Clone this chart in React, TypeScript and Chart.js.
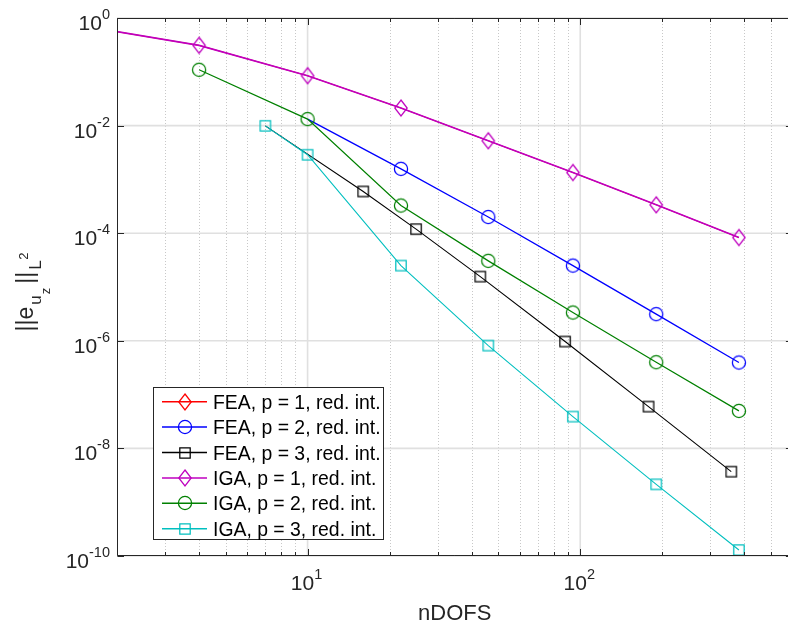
import React, { useEffect, useRef } from 'react';
import { Chart, registerables } from 'chart.js';

Chart.register(...registerables);

// ---------------- data ----------------
const FEA_P1_NDOFS = [1, 4, 10, 22, 46, 94, 190, 382];
const FEA_P1_ERR = [1, 0.31, 0.0845, 0.0212, 0.00522, 0.00134, 3.37e-4, 8.3e-5];

const FEA_P2_NDOFS = [10, 22, 46, 94, 190, 382];
const FEA_P2_ERR = [0.0132, 1.57e-3, 2.0e-4, 2.5e-5, 3.13e-6, 3.94e-7];

const FEA_P3_NDOFS = [7, 16, 25, 43, 88, 178, 358];
const FEA_P3_ERR = [0.0099, 5.96e-4, 1.19e-4, 1.56e-5, 9.7e-7, 5.98e-8, 3.7e-9];

const IGA_P1_NDOFS = [1, 4, 10, 22, 46, 94, 190, 382];
const IGA_P1_ERR = [1, 0.31, 0.0845, 0.0212, 0.00522, 0.00134, 3.37e-4, 8.3e-5];

const IGA_P2_NDOFS = [4, 10, 22, 46, 94, 190, 382];
const IGA_P2_ERR = [0.109, 0.0132, 3.27e-4, 3.06e-5, 3.35e-6, 4.0e-7, 4.98e-8];

const IGA_P3_NDOFS = [7, 10, 22, 46, 94, 190, 382];
const IGA_P3_ERR = [0.0099, 2.87e-3, 2.5e-5, 8.15e-7, 3.9e-8, 2.15e-9, 1.29e-10];

const SERIES_LABELS = [
  'FEA, p = 1, red. int.',
  'FEA, p = 2, red. int.',
  'FEA, p = 3, red. int.',
  'IGA, p = 1, red. int.',
  'IGA, p = 2, red. int.',
  'IGA, p = 3, red. int.',
];

const X_MIN = 2;
const X_MAX = 600;
const Y_MIN = 1e-10;
const Y_MAX = 1;
const X_TICK_EXPONENTS = [1, 2];
const Y_TICK_EXPONENTS = [0, -2, -4, -6, -8, -10];
const X_LABEL = 'nDOFS';

// ---------------- styles ----------------
const SERIES_COLORS = ['#FF0000', '#0000FF', '#000000', '#BF00BF', '#008000', '#00BFBF'];
const SERIES_MARKERS = ['diamond', 'circle', 'square', 'diamond', 'circle', 'square'];
const SERIES_LINE_WIDTHS = [1.0, 1.3, 1.1, 1.6, 1.2, 1.1];

const FONT = '"Liberation Sans", Arial, Helvetica, sans-serif';
const AXIS_COLOR = '#262626';

function makeMarker(shape: string, color: string): HTMLCanvasElement {
  const c = document.createElement('canvas');
  let w = 16;
  let h = 16;
  if (shape === 'diamond') { w = 16; h = 20; }
  if (shape === 'circle') { w = 18; h = 18; }
  c.width = w;
  c.height = h;
  const g = c.getContext('2d') as CanvasRenderingContext2D;
  g.strokeStyle = color;
  g.lineWidth = 1.25;
  g.beginPath();
  if (shape === 'diamond') {
    g.moveTo(w / 2, h / 2 - 8);
    g.lineTo(w / 2 + 6.2, h / 2);
    g.lineTo(w / 2, h / 2 + 8);
    g.lineTo(w / 2 - 6.2, h / 2);
    g.closePath();
  } else if (shape === 'circle') {
    g.arc(w / 2, h / 2, 6.6, 0, Math.PI * 2);
  } else {
    g.rect(w / 2 - 5.2, h / 2 - 5.2, 10.4, 10.4);
  }
  g.stroke();
  return c;
}

function minorValues(): number[] {
  const out: number[] = [];
  for (const d of [1, 10, 100]) {
    for (let m = 2; m <= 9; m++) {
      const v = m * d;
      if (v >= X_MIN && v <= X_MAX) out.push(v);
    }
  }
  return out;
}

function drawPower(
  ctx: CanvasRenderingContext2D,
  exp: number,
  anchorX: number,
  baseY: number,
  align: 'center' | 'right'
) {
  const main = '10';
  const sup = String(exp);
  ctx.font = `21px ${FONT}`;
  const wm = ctx.measureText(main).width;
  ctx.font = `14.5px ${FONT}`;
  const ws = ctx.measureText(sup).width;
  const total = wm + ws;
  const x0 = align === 'right' ? anchorX - total : anchorX - total / 2;
  ctx.textAlign = 'left';
  ctx.textBaseline = 'alphabetic';
  ctx.fillStyle = AXIS_COLOR;
  ctx.font = `21px ${FONT}`;
  ctx.fillText(main, x0, baseY);
  ctx.font = `14.5px ${FONT}`;
  ctx.fillText(sup, x0 + wm, baseY - 11);
}

const matlabAxes = {
  id: 'matlabAxes',
  beforeDatasetsDraw(chart: any) {
    const { ctx, chartArea: a, scales } = chart;
    const xs = scales.x;
    const ys = scales.y;
    ctx.save();
    // minor x grid (dotted)
    ctx.strokeStyle = '#c8c8c8';
    ctx.lineWidth = 1;
    ctx.setLineDash([1, 2]);
    for (const v of minorValues()) {
      const px = Math.round(xs.getPixelForValue(v)) + 0.5;
      ctx.beginPath();
      ctx.moveTo(px, a.top);
      ctx.lineTo(px, a.bottom);
      ctx.stroke();
    }
    // major grid (solid)
    ctx.setLineDash([]);
    ctx.strokeStyle = '#e0e0e0';
    ctx.lineWidth = 1.6;
    for (const e of X_TICK_EXPONENTS) {
      const px = xs.getPixelForValue(Math.pow(10, e));
      ctx.beginPath();
      ctx.moveTo(px, a.top);
      ctx.lineTo(px, a.bottom);
      ctx.stroke();
    }
    for (const e of Y_TICK_EXPONENTS) {
      const py = ys.getPixelForValue(Math.pow(10, e));
      ctx.beginPath();
      ctx.moveTo(a.left, py);
      ctx.lineTo(a.right, py);
      ctx.stroke();
    }
    ctx.restore();
  },
  afterDatasetsDraw(chart: any) {
    const { ctx, chartArea: a, scales } = chart;
    const xs = scales.x;
    const ys = scales.y;
    ctx.save();
    ctx.strokeStyle = AXIS_COLOR;
    ctx.lineWidth = 1;
    ctx.setLineDash([]);
    const L = Math.round(a.left) + 0.5;
    const T = Math.round(a.top) + 0.5;
    const B = Math.round(a.bottom) - 0.5;
    // box lines
    ctx.beginPath();
    ctx.moveTo(L, T);
    ctx.lineTo(a.right, T);
    ctx.moveTo(L, T);
    ctx.lineTo(L, B);
    ctx.lineTo(a.right, B);
    ctx.moveTo(a.right - 0.5, T);
    ctx.lineTo(a.right - 0.5, B);
    ctx.stroke();
    // ticks
    ctx.beginPath();
    for (const v of minorValues()) {
      const px = Math.round(xs.getPixelForValue(v)) + 0.5;
      ctx.moveTo(px, B);
      ctx.lineTo(px, B - 3.5);
      ctx.moveTo(px, T);
      ctx.lineTo(px, T + 3.5);
    }
    for (const e of X_TICK_EXPONENTS) {
      const px = Math.round(xs.getPixelForValue(Math.pow(10, e))) + 0.5;
      ctx.moveTo(px, B);
      ctx.lineTo(px, B - 6.5);
      ctx.moveTo(px, T);
      ctx.lineTo(px, T + 6.5);
    }
    for (const e of Y_TICK_EXPONENTS) {
      const py = Math.round(ys.getPixelForValue(Math.pow(10, e))) + 0.5;
      ctx.moveTo(L, py);
      ctx.lineTo(L + 6.5, py);
      ctx.moveTo(a.right, py);
      ctx.lineTo(a.right - 6.5, py);
    }
    ctx.stroke();

    // tick labels
    for (const e of X_TICK_EXPONENTS) {
      const px = xs.getPixelForValue(Math.pow(10, e));
      drawPower(ctx, e, px - 1, a.bottom + 34, 'center');
    }
    for (const e of Y_TICK_EXPONENTS) {
      const py = ys.getPixelForValue(Math.pow(10, e));
      drawPower(ctx, e, a.left - 7, py + 12, 'right');
    }

    // x label
    ctx.fillStyle = AXIS_COLOR;
    ctx.font = `22px ${FONT}`;
    ctx.textAlign = 'center';
    ctx.textBaseline = 'alphabetic';
    ctx.fillText(X_LABEL, (a.left + a.right) / 2, a.bottom + 64);

    // y label  ||e_{u_z}||_{L^2}
    const segs = [
      { t: '||e', size: 23, dy: 0, gap: 2 },
      { t: 'u', size: 17, dy: 8, gap: 1 },
      { t: 'z', size: 13, dy: 17, gap: 4 },
      { t: '||', size: 23, dy: 0, gap: 2 },
      { t: 'L', size: 17, dy: 8, gap: 0.5 },
      { t: '2', size: 13, dy: -5, gap: 0 },
    ];
    let total = 0;
    const widths: number[] = [];
    for (const s of segs) {
      ctx.font = `${s.size}px ${FONT}`;
      const w = ctx.measureText(s.t).width;
      widths.push(w);
      total += w + s.gap;
    }
    ctx.translate(33, (a.top + a.bottom) / 2 + 5);
    ctx.rotate(-Math.PI / 2);
    ctx.textAlign = 'left';
    let cx = -total / 2;
    segs.forEach((s, i) => {
      ctx.font = `${s.size}px ${FONT}`;
      ctx.fillText(s.t, cx, s.dy);
      cx += widths[i] + s.gap;
    });
    ctx.setTransform(1, 0, 0, 1, 0, 0);

    // legend
    const lx = 153.5, ly = 387.5, lw = 230, lh = 152;
    ctx.fillStyle = '#ffffff';
    ctx.fillRect(lx, ly, lw, lh);
    ctx.strokeStyle = AXIS_COLOR;
    ctx.lineWidth = 1;
    ctx.strokeRect(lx, ly, lw, lh);
    const markers = chart.$markers as HTMLCanvasElement[];
    SERIES_LABELS.forEach((label, i) => {
      const cy = 401.7 + i * 25.4;
      ctx.strokeStyle = SERIES_COLORS[i];
      ctx.lineWidth = 1.5;
      ctx.beginPath();
      ctx.moveTo(162, cy);
      ctx.lineTo(207, cy);
      ctx.stroke();
      const m = markers[i];
      ctx.drawImage(m, Math.round(184.5 - m.width / 2), Math.round(cy - m.height / 2));
      ctx.fillStyle = '#000000';
      ctx.font = `19.4px ${FONT}`;
      ctx.textAlign = 'left';
      ctx.textBaseline = 'alphabetic';
      ctx.fillText(label, 213, cy + 7);
    });
    ctx.restore();
  },
};

export default function App() {
  const ref = useRef<HTMLCanvasElement | null>(null);
  useEffect(() => {
    if (!ref.current) return;
    const xsList = [FEA_P1_NDOFS, FEA_P2_NDOFS, FEA_P3_NDOFS, IGA_P1_NDOFS, IGA_P2_NDOFS, IGA_P3_NDOFS];
    const ysList = [FEA_P1_ERR, FEA_P2_ERR, FEA_P3_ERR, IGA_P1_ERR, IGA_P2_ERR, IGA_P3_ERR];
    const markers = SERIES_MARKERS.map((s, i) => makeMarker(s, SERIES_COLORS[i]));
    // hide FEA markers that sit exactly beneath an IGA marker (covered in the reference)
    const covered = (i: number, j: number) => {
      if (i >= 3) return false;
      const x = xsList[i][j];
      const y = ysList[i][j];
      for (let k = 3; k < 6; k++) {
        for (let q = 0; q < xsList[k].length; q++) {
          if (xsList[k][q] === x && ysList[k][q] === y) return true;
        }
      }
      return false;
    };
    const chart = new Chart(ref.current, {
      type: 'line',
      data: {
        datasets: SERIES_LABELS.map((label, i) => ({
          label,
          data: xsList[i].map((x, j) => ({ x, y: ysList[i][j] })),
          borderColor: SERIES_COLORS[i],
          backgroundColor: SERIES_COLORS[i],
          borderWidth: SERIES_LINE_WIDTHS[i],
          pointStyle: markers[i] as any,
          pointRadius: xsList[i].map((_, j) => (covered(i, j) ? 0 : 6)),
          pointHoverRadius: 6,
          fill: false,
          tension: 0,
          order: 6 - i,
        })),
      },
      options: {
        animation: false,
        responsive: false,
        devicePixelRatio: 1,
        events: [],
        layout: { padding: { left: 117, top: 18, right: 3, bottom: 72 } },
        plugins: { legend: { display: false }, tooltip: { enabled: false } },
        scales: {
          x: { type: 'logarithmic', min: X_MIN, max: X_MAX, display: false },
          y: { type: 'logarithmic', min: Y_MIN, max: Y_MAX, display: false },
        },
      },
      plugins: [
        {
          id: 'markerStore',
          beforeInit(c: any) {
            c.$markers = markers;
          },
        },
        matlabAxes,
      ],
    } as any);
    return () => chart.destroy();
  }, []);
  return (
    <div
      style={{
        position: 'fixed',
        left: 0,
        top: 0,
        width: 788,
        height: 628,
        overflow: 'hidden',
        background: '#ffffff',
      }}
    >
      <canvas ref={ref} width={800} height={628} style={{ display: 'block' }} />
    </div>
  );
}
